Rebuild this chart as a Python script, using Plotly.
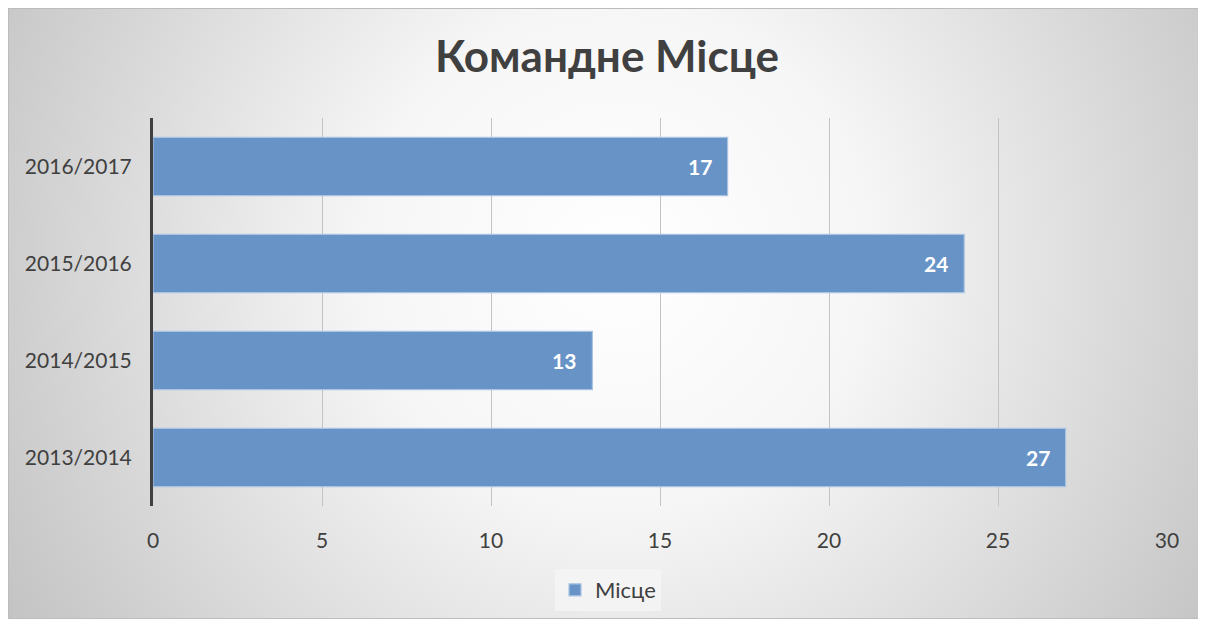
import base64
import plotly.graph_objects as go

seasons = ["2013/2014", "2014/2015", "2015/2016", "2016/2017"]
places = [27, 13, 24, 17]
series_name = "Місце"
title_text = "Командне Місце"
x_ticks = [0, 5, 10, 15, 20, 25, 30]

# page body has an 8px margin, so figure is slightly smaller than the window
W, H = 1198, 617
L, R, T, B = 145, 39, 110, 119
pw, ph = W - L - R, H - T - B

svg = (
    '<svg xmlns="http://www.w3.org/2000/svg" width="1192" height="611" viewBox="0 0 1192 611" preserveAspectRatio="none">'
    '<defs><radialGradient id="g" gradientUnits="userSpaceOnUse" cx="610" cy="250" r="720">'
    '<stop offset="0" stop-color="#ffffff"/><stop offset="0.35" stop-color="#f6f6f6"/>'
    '<stop offset="1" stop-color="#c2c2c2"/></radialGradient></defs>'
    '<rect x="0" y="0" width="1192" height="611" fill="url(#g)" stroke="#bcbcbc" stroke-width="2"/></svg>'
)
uri = "data:image/svg+xml;base64," + base64.b64encode(svg.encode()).decode()

fig = go.Figure()
fig.add_trace(go.Bar(
    y=seasons, x=places, orientation="h", name=series_name,
    marker=dict(color="#6793c7", line=dict(color="#a9c3e3", width=1.2)),
    width=0.6, showlegend=True,
))

for s, v in zip(seasons, places):
    fig.add_annotation(x=v, y=s, xref="x", yref="y", text=f"<b>{v}</b>",
                       showarrow=False, xanchor="right", xshift=-14,
                       font=dict(color="white", size=21, family="Lato"))

fig.update_layout(
    width=W, height=H,
    margin=dict(l=L, r=R, t=T, b=B),
    paper_bgcolor="white", plot_bgcolor="rgba(0,0,0,0)",
    images=[dict(source=uri, xref="paper", yref="paper",
                 x=(0 - L) / pw, y=(H - B) / ph,
                 sizex=1192 / pw, sizey=611 / ph,
                 xanchor="left", yanchor="top", sizing="stretch", layer="below")],
    title=dict(text=f"<b>{title_text}</b>", x=0.5, xanchor="center",
               y=1 - 49 / H, yanchor="middle",
               font=dict(family="Lato", size=44, color="#404040")),
    font=dict(family="Lato", size=21, color="#404040"),
    xaxis=dict(range=[0, 30], tickvals=x_ticks, showgrid=True, gridcolor="#c3c3c3",
               gridwidth=1, zeroline=False, showline=False, ticks="outside",
               ticklen=16, tickcolor="rgba(0,0,0,0)", fixedrange=True),
    yaxis=dict(showline=True, linecolor="#404040", linewidth=3, showgrid=False,
               ticks="outside", ticklen=14, tickcolor="rgba(0,0,0,0)",
               categoryorder="array", categoryarray=seasons, fixedrange=True),
    legend=dict(orientation="h", x=(600 - L) / pw, xanchor="center", y=(H - B - 582) / ph,
                yanchor="middle", bgcolor="rgba(245,245,245,0.8)",
                font=dict(size=22, color="#404040")),
    bargap=0.4,
)

fig.write_html("out.html")
